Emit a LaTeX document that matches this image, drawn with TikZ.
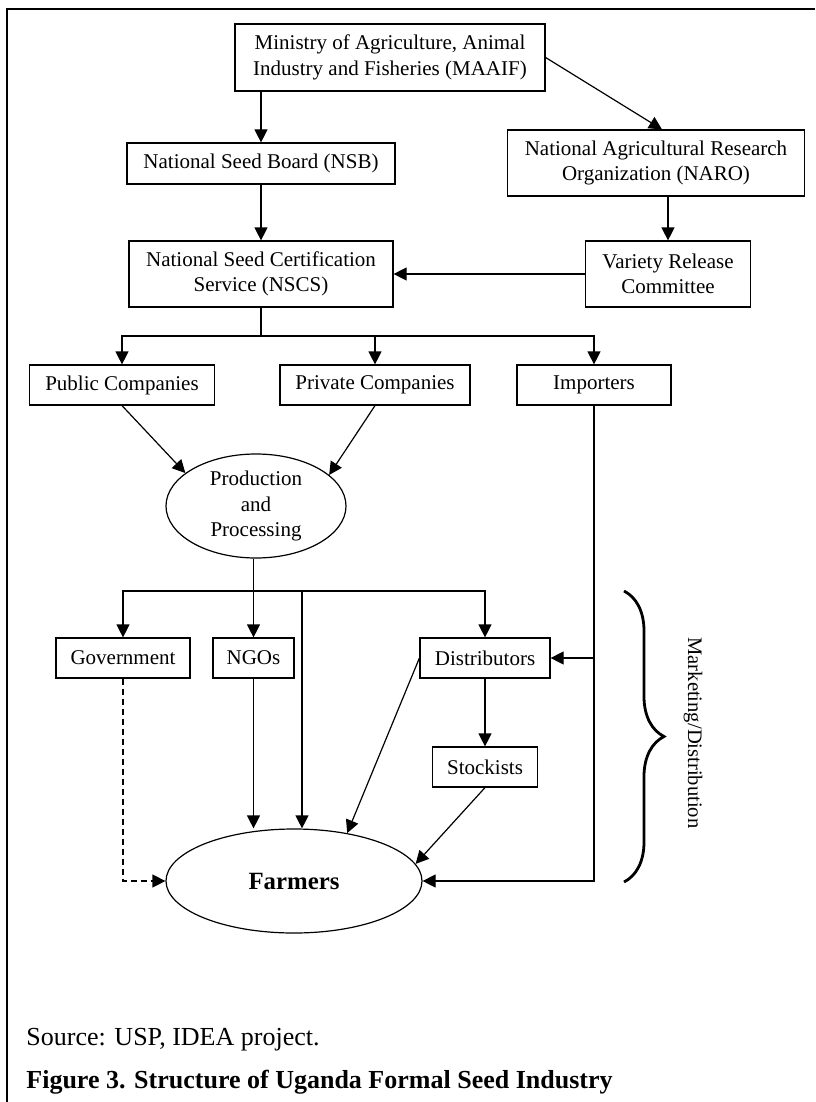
\documentclass[tikz,border=0pt]{standalone}
\usepackage{fontspec}
\setmainfont{Liberation Serif}
\usetikzlibrary{arrows.meta,shapes.geometric,decorations.pathreplacing}
\tikzset{
    box/.style={draw, line width=0.6pt, align=center, inner sep=0pt,
        font=\fontsize{10.5}{12.8}\selectfont},
    oval/.style={draw, ellipse, line width=0.6pt, align=center, inner sep=0pt,
        font=\fontsize{10.5}{12.8}\selectfont},
    arr/.style={line width=0.6pt, -{Triangle[length=6.5pt,width=6.5pt]}},
    dasharr/.style={arr, dash pattern=on 3pt off 2pt},
    curly/.style={line width=1.4pt, decorate, decoration={brace, amplitude=20pt}}
}
\begin{document}
\begin{tikzpicture}[x=0.5pt, y=-0.5pt]
                \useasboundingbox (0,0) rectangle (815,1102);
                \draw[line width=1.3pt] (7,1102) -- (7,9) -- (815,9);

                \node[box, minimum width=155pt, minimum height=33.5pt] (maaif) at (390,57.5) {Ministry of Agriculture, Animal\\Industry and Fisheries (MAAIF)};
                \node[box, minimum width=134pt, minimum height=20.5pt] (nsb) at (261,163.5) {National Seed Board (NSB)};
                \node[box, minimum width=148.5pt, minimum height=33pt] (naro) at (656,163) {National Agricultural Research\\Organization (NARO)};
                \node[box, minimum width=132pt, minimum height=33pt] (nscs) at (261,274) {National Seed Certification\\Service (NSCS)};
                \node[box, minimum width=82.5pt, minimum height=33pt] (vrc) at (668,274) {Variety Release\\Committee};

                \node[box, minimum width=92.5pt, minimum height=20pt] (pub) at (122,385) {Public Companies};
                \node[box, minimum width=95pt, minimum height=20pt] (priv) at (375,385) {Private Companies};
                \node[box, minimum width=77pt, minimum height=20pt] (imp) at (594,385) {Importers};

                \node[oval, minimum width=90pt, minimum height=52pt] (prod) at (256,506) {Production\\and\\Processing};

                \node[box, minimum width=67pt, minimum height=20pt] (gov) at (123,658) {Government};
                \node[box, minimum width=40.5pt, minimum height=20pt] (ngo) at (253.5,658) {NGOs};
                \node[box, minimum width=65pt, minimum height=20pt] (dist) at (485,658) {Distributors};
                \node[box, minimum width=52.5pt, minimum height=20pt] (stock) at (485,767) {Stockists};

                \node[oval, minimum width=128pt, minimum height=52pt, font=\fontsize{12.4}{14}\selectfont\bfseries] (farm) at (294,881) {Farmers};

                \coordinate (split) at (261,336);
                \coordinate (fork) at (253.5,591);
                \coordinate (direct) at (302,591);

                \draw[arr] (maaif.south -| nsb.north) -- (nsb.north);
                \draw[arr] (nsb.south) -- (nscs.north);
                \draw[arr] (maaif.east) -- ([xshift=3pt]naro.north);
                \draw[arr] (naro.south -| vrc.north) -- (vrc.north);
                \draw[arr] (vrc.west) -- (nscs.east);

                \draw[line width=0.6pt] (nscs.south) -- (split);
                \draw[arr] (split) -| (pub.north);
                \draw[arr] (split) -| (priv.north);
                \draw[arr] (split) -| (imp.north);

                \draw[arr] (pub.south) -- (prod.155);
                \draw[arr] (priv.south) -- (prod.23);

                \draw[arr] (prod.south -| ngo.north) -- (ngo.north);
                \draw[arr] (fork) -| (gov.north);
                \draw[arr] (fork) -| (dist.north);
                \draw[arr] (direct) -- (direct |- farm.north);

                \draw[dasharr] (gov.south) |- (farm.west);
                \draw[arr] (ngo.south) -- (ngo.south |- farm.north);
                \draw[arr] (dist.west) -- (farm.42);
                \draw[arr] (dist.south) -- (stock.north);
                \draw[arr] (stock.south) -- (farm.8);
                \draw[arr] (imp.south) |- (farm.east);
                \draw[arr] (imp.south |- dist.east) -- (dist.east);

                \draw[curly] (624,591) -- (624,882);
                \node[rotate=-90, font=\fontsize{10.3}{12}\selectfont] (mkt) at (693,733) {Marketing/Distribution};

                \node[anchor=base west, inner sep=0pt, font=\fontsize{13}{15}\selectfont] (src) at (26,1045) {Source: USP, IDEA project.};
                \node[anchor=base west, inner sep=0pt, font=\fontsize{13}{15}\selectfont\bfseries] (cap) at (26,1088) {Figure 3. Structure of Uganda Formal Seed Industry};
            \end{tikzpicture}
\end{document}
